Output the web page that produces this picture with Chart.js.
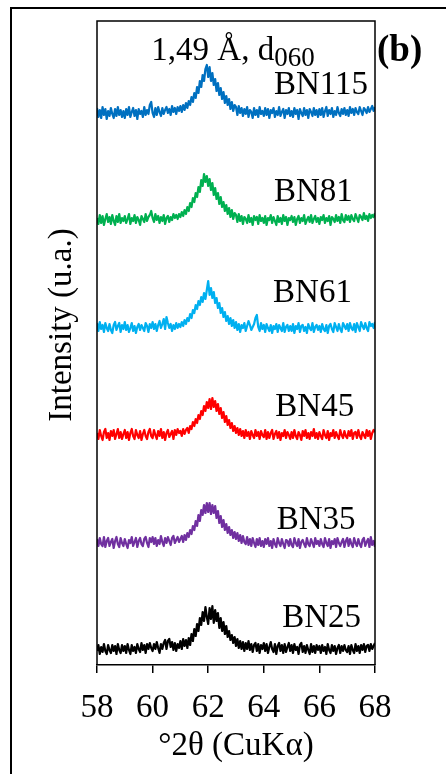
<!DOCTYPE html>
<html>
<head>
<meta charset="utf-8">
<script src="https://cdn.jsdelivr.net/npm/chart.js@4.4.0/dist/chart.umd.min.js"></script>
<style>
  html, body { margin: 0; padding: 0; background: #fff; }
</style>
</head>
<body>
<canvas id="xrdCanvas" width="446" height="774"></canvas>
<script>
// scan angles, degrees 2theta
var angles = [
  58.00, 58.05, 58.10, 58.15, 58.20, 58.25, 58.30, 58.35, 58.40, 58.45, 58.50, 58.55, 58.60, 58.65, 58.70, 58.75, 58.80, 58.85, 58.90, 58.95,
  59.00, 59.05, 59.10, 59.15, 59.20, 59.25, 59.30, 59.35, 59.40, 59.45, 59.50, 59.55, 59.60, 59.65, 59.70, 59.75, 59.80, 59.85, 59.90, 59.95,
  60.00, 60.05, 60.10, 60.15, 60.20, 60.25, 60.30, 60.35, 60.40, 60.45, 60.50, 60.55, 60.60, 60.65, 60.70, 60.75, 60.80, 60.85, 60.90, 60.95,
  61.00, 61.05, 61.10, 61.15, 61.20, 61.25, 61.30, 61.35, 61.40, 61.45, 61.50, 61.55, 61.60, 61.65, 61.70, 61.75, 61.80, 61.85, 61.90, 61.95,
  62.00, 62.05, 62.10, 62.15, 62.20, 62.25, 62.30, 62.35, 62.40, 62.45, 62.50, 62.55, 62.60, 62.65, 62.70, 62.75, 62.80, 62.85, 62.90, 62.95,
  63.00, 63.05, 63.10, 63.15, 63.20, 63.25, 63.30, 63.35, 63.40, 63.45, 63.50, 63.55, 63.60, 63.65, 63.70, 63.75, 63.80, 63.85, 63.90, 63.95,
  64.00, 64.05, 64.10, 64.15, 64.20, 64.25, 64.30, 64.35, 64.40, 64.45, 64.50, 64.55, 64.60, 64.65, 64.70, 64.75, 64.80, 64.85, 64.90, 64.95,
  65.00, 65.05, 65.10, 65.15, 65.20, 65.25, 65.30, 65.35, 65.40, 65.45, 65.50, 65.55, 65.60, 65.65, 65.70, 65.75, 65.80, 65.85, 65.90, 65.95,
  66.00, 66.05, 66.10, 66.15, 66.20, 66.25, 66.30, 66.35, 66.40, 66.45, 66.50, 66.55, 66.60, 66.65, 66.70, 66.75, 66.80, 66.85, 66.90, 66.95,
  67.00, 67.05, 67.10, 67.15, 67.20, 67.25, 67.30, 67.35, 67.40, 67.45, 67.50, 67.55, 67.60, 67.65, 67.70, 67.75, 67.80, 67.85, 67.90, 67.95,
  68.00
];

var samples = ['BN115', 'BN81', 'BN61', 'BN45', 'BN35', 'BN25'];

// intensities (a.u., above each trace's own baseline)
var bn115 = [
  5, -4, 3, -5, 6, -2, 4, -6, 2, -3, 5, -1, -5, 4, -3, 6, -2, 3, -4, 2,
  -5, 4, -2, 6, -4, 1, 5, -3, 3, -6, 4, -1, 2, -4, 6, -2, 3, -1, 8, 11,
  0, -4, 5, -2, 6, 1, -3, 5, -1, 3, 6, 0, 4, -2, 7, 1, 5, -1, 6, 2,
  7, 1, 8, 3, 10, 5, 12, 8, 16, 11, 20, 15, 26, 20, 32, 26, 38, 32, 44, 48,
  36, 46, 32, 40, 28, 34, 22, 30, 18, 25, 14, 21, 10, 17, 8, 14, 4, 11, 2, 8,
  6, -2, 7, 0, 5, -3, 4, -1, 6, -4, 3, 1, -5, 5, -2, 3, -4, 6, -1, 2,
  -3, 5, -2, 4, -5, 3, 0, 5, -4, 2, -2, 6, -3, 1, 4, -5, 3, -1, 5, -3,
  2, -4, 5, -1, 3, -6, 4, 0, -3, 5, -2, 3, -5, 4, 1, -3, 5, -2, 3, -4,
  4, -2, 5, -4, 2, 6, -3, 3, -1, 5, -4, 2, -2, 6, 0, -3, 4, -1, 5, -2,
  3, -3, 6, 0, 4, -2, 5, 1, -1, 6, 2, -2, 5, 3, 0, 6, 1, 4, 7, 2,
  6
];
var bn81 = [
  2, -4, 5, -3, 4, -5, 1, 6, -2, 3, -4, 5, -1, -5, 4, -2, 6, -3, 2, -1,
  4, -3, 1, 6, -4, 2, -1, 5, -3, 3, 0, -5, 4, 1, -2, 6, -1, 3, 5, 9,
  2, -2, 6, 0, 4, -3, 3, -1, 5, -4, 2, 4, -2, 3, 0, 6, 2, 5, 1, 6,
  3, 8, 4, 10, 6, 13, 9, 17, 13, 22, 18, 27, 23, 33, 28, 40, 34, 46, 38, 44,
  34, 41, 30, 37, 25, 32, 21, 27, 16, 23, 13, 18, 9, 15, 6, 12, 3, 10, 1, 7,
  5, -2, 6, -1, 4, -4, 3, 1, -3, 5, -2, 2, -5, 4, 0, 3, -4, 5, -1, 2,
  -3, 4, -5, 2, 0, 5, -3, 3, -1, -5, 4, -2, 2, -4, 5, -1, 3, -5, 2, 0,
  4, -2, 3, -5, 1, 4, -3, 2, -1, 5, -4, 0, 3, -2, 5, -3, 1, 4, -2, 2,
  -4, 3, 0, 5, -3, 2, -1, 4, -5, 3, 1, -2, 5, -1, 3, -3, 6, 0, -2, 5,
  0, 4, -2, 5, 1, -1, 6, 2, -2, 5, 3, 0, 7, 1, 4, -1, 6, 2, 5, 3,
  7
];
var bn61 = [
  5, -3, 6, -1, 3, -4, 5, 0, -3, 4, -2, -5, 3, 6, -2, 2, 5, -4, 3, -1,
  6, -2, 3, -4, 0, 5, -3, 2, -5, 1, 4, -2, 3, 0, -3, 5, 2, -4, 4, 0,
  6, -1, 4, -3, 3, 7, 0, 4, 9, -1, 11, 5, 0, 4, -3, 3, -1, 5, 0, 4,
  1, 6, 2, 8, 4, 10, 7, 14, 10, 18, 15, 23, 19, 27, 23, 31, 26, 35, 29, 38,
  47, 33, 40, 30, 36, 25, 30, 20, 25, 15, 20, 11, 16, 7, 12, 4, 10, 2, 8, 0,
  6, -2, 4, -4, 3, 0, 5, -3, 2, 7, 3, -2, 1, 4, 10, 13, 1, -3, 5, -1,
  3, -4, 4, 0, -3, 3, -5, 2, -1, 4, -4, 3, 0, -3, 5, -4, 1, 3, -3, 2,
  -3, 4, -5, 2, -1, 5, -4, 2, 3, -3, 1, -5, 4, 0, -2, 5, -4, 1, 3, -2,
  2, -4, 4, -1, -3, 3, -5, 2, 4, -1, -4, 5, 1, -3, 4, -1, -4, 5, 2, -1,
  4, -3, 5, 0, -2, 4, -4, 5, 1, -3, 6, 2, -1, 5, 0, -3, 6, 2, 4, 0,
  6
];
var bn45 = [
  2, -4, 5, -1, -5, 3, 6, -3, 2, -5, 4, -1, 5, -4, 1, 6, -3, 3, -4, 1,
  5, -3, 3, -5, 2, 6, -1, -4, 5, 0, -3, 4, -5, 1, 5, -1, -4, 3, 6, -1,
  -3, 5, 0, -4, 4, -1, 6, -3, 3, -5, 2, 5, -2, 1, 4, -4, 5, 0, 6, 2,
  4, -1, 6, 1, 5, 7, 2, 9, 6, 13, 9, 16, 12, 20, 16, 24, 20, 29, 24, 33,
  27, 36, 26, 37, 28, 34, 24, 31, 21, 27, 17, 23, 13, 19, 10, 15, 7, 12, 4, 9,
  2, 7, 0, 6, -1, 4, -3, 5, -1, 3, -4, 4, 0, -3, 5, -1, 3, -4, 4, 0,
  -2, 5, -4, 3, -3, 2, 5, -4, 1, 4, -3, 3, -5, 2, -1, 5, -3, 3, 0, -4,
  3, -3, 5, -1, -4, 3, 0, -5, 4, -1, 5, -3, 2, -4, 3, -1, 6, -3, 2, -4,
  3, -1, -4, 5, 0, -3, 4, -5, 2, -1, 5, -3, 3, -1, -4, 5, 0, -3, 4, -1,
  -3, 4, -1, 5, -4, 2, 3, -3, 5, -1, -4, 3, 0, -3, 5, -1, 4, -4, 2, 5,
  3
];
var bn35 = [
  4, -3, 5, -1, -3, 6, -4, 2, 5, -3, 1, 4, -5, 2, 6, -1, -4, 5, 0, -3,
  4, -1, -5, 3, 0, 6, -3, 1, 5, -4, 2, 5, -1, -3, 4, 6, 0, -4, 5, 1,
  6, -1, 5, -3, 3, -1, 7, 1, -3, 5, 0, 6, 2, -2, 5, 7, 0, 3, 6, 1,
  4, 7, 1, 8, 3, 10, 6, 13, 9, 17, 13, 22, 17, 28, 22, 33, 28, 38, 30, 40,
  31, 40, 29, 38, 30, 37, 25, 32, 20, 27, 16, 23, 13, 19, 10, 16, 8, 13, 5, 11,
  4, 10, 2, 8, 0, 7, 1, -1, 6, -2, 4, -3, 5, 0, -4, 4, -2, 5, -3, 2,
  -4, 4, -1, 5, -3, 2, -5, 4, -1, -4, 5, 0, -3, 4, -1, -5, 3, 2, -3, 4,
  -2, -4, 5, 0, -3, 4, -5, 1, 3, -1, -4, 5, -1, -3, 4, 0, -4, 5, -1, 2,
  -3, 4, -1, -4, 5, 0, -3, 4, -5, 2, -1, 4, -4, 5, 0, -3, 1, 4, -4, 2,
  5, -3, 4, -1, -4, 5, 0, -3, 4, -1, -4, 3, 5, -3, 1, 4, -4, 6, -2, 2,
  -4
];
var bn25 = [
  -1, 5, -4, 3, -2, 6, -1, -4, 5, 0, -3, 5, -1, 4, -4, 6, 0, -3, 5, -1,
  4, -3, 6, 0, -4, 5, -1, 3, -3, 6, 1, -2, 7, 0, 5, -3, 6, 1, 7, 2,
  -1, 6, 1, 8, 2, -3, 6, 1, 7, 10, 1, 9, 11, 3, 8, 0, 7, -1, 6, 2,
  9, 1, 11, 4, 10, 2, 12, 5, 16, 9, 21, 14, 26, 19, 32, 25, 38, 29, 43, 33,
  26, 42, 31, 44, 27, 40, 29, 37, 22, 32, 19, 28, 16, 24, 13, 19, 10, 15, 7, 13,
  4, 11, 2, 9, 1, 8, -1, 7, 1, 9, 0, 6, -2, 5, 7, -1, 6, -3, 5, 1,
  7, -1, 6, -3, 3, 8, 1, -2, 6, -4, 4, 7, -1, 5, -3, 6, -2, 3, 7, -1,
  5, -3, 6, 0, 3, -4, 5, 7, -2, 4, -3, 5, 0, -4, 6, -2, 4, -3, 5, 0,
  4, -3, 5, -1, 3, -4, 6, 0, -3, 5, -1, 4, -4, 2, 5, -3, 4, -1, 5, 0,
  -2, 4, -4, 5, 0, -3, 6, -1, 4, -3, 5, 0, 6, -2, 4, 5, -1, 6, 1, 4,
  7
];
var intensities = [bn115, bn81, bn61, bn45, bn35, bn25];

var xTicks = [58, 60, 62, 64, 66, 68];

// display settings
var colors = ['#0070C0', '#00B050', '#00B0F0', '#FF0000', '#7030A0', '#000000'];
var stackOffsets = [552, 445, 337, 230, 122, 15];
var labelAt = [67.75, 67.2, 67.17, 67.25, 67.3, 67.5];
var labelLift = [28, 28, 35, 28, 23, 32];

var serif = '"Liberation Serif", "Times New Roman", serif';

var datasets = samples.map(function (name, k) {
    return {
        label: name,
        data: angles.map(function (a, i) { return { x: a, y: intensities[k][i] + stackOffsets[k] }; }),
        borderColor: colors[k],
        borderWidth: 2.2,
        borderJoinStyle: 'round',
        pointRadius: 0,
        tension: 0,
        fill: false
    };
});

var decor = {
    id: 'decor',
    beforeDraw: function (chart) {
        var ctx = chart.ctx;
        ctx.save();
        ctx.fillStyle = '#fff';
        ctx.fillRect(0, 0, chart.width, chart.height);
        ctx.restore();
    },
    afterDraw: function (chart) {
        var ctx = chart.ctx, a = chart.chartArea;
        var xs = chart.scales.x, ys = chart.scales.y;
        ctx.save();
        ctx.strokeStyle = '#000';
        ctx.lineWidth = 1.5;
        ctx.beginPath();
        ctx.moveTo(a.left, a.bottom);
        ctx.lineTo(a.left, a.top);
        ctx.lineTo(a.right, a.top);
        ctx.lineTo(a.right, a.bottom);
        ctx.stroke();

        // outer frame of the figure
        ctx.lineWidth = 2;
        ctx.beginPath();
        ctx.moveTo(11, chart.height);
        ctx.lineTo(11, 8);
        ctx.lineTo(chart.width, 8);
        ctx.stroke();

        ctx.fillStyle = '#000';
        ctx.font = '33px ' + serif;
        ctx.textAlign = 'right';
        ctx.textBaseline = 'middle';
        samples.forEach(function (s, k) {
            ctx.fillText(s, xs.getPixelForValue(labelAt[k]), ys.getPixelForValue(stackOffsets[k] + labelLift[k]));
        });

        // y title
        ctx.save();
        ctx.translate(62, 325);
        ctx.rotate(-Math.PI / 2);
        ctx.textAlign = 'center';
        ctx.fillText('Intensity (u.a.)', 0, 0);
        ctx.restore();

        // peak annotation
        ctx.textAlign = 'left';
        ctx.textBaseline = 'alphabetic';
        var main = '1,49 \u00C5, d';
        ctx.font = '33px ' + serif;
        var w1 = ctx.measureText(main).width;
        ctx.font = '27px ' + serif;
        var w2 = ctx.measureText('060').width;
        var x0 = 233 - (w1 + w2) / 2;
        ctx.font = '33px ' + serif;
        ctx.fillText(main, x0, 60);
        ctx.font = '27px ' + serif;
        ctx.fillText('060', x0 + w1, 66);

        ctx.font = 'bold 37px ' + serif;
        ctx.fillText('(b)', 377, 61);
        ctx.restore();
    }
};

new Chart(document.getElementById('xrdCanvas'), {
    type: 'line',
    data: { datasets: datasets },
    options: {
        responsive: false,
        devicePixelRatio: 1,
        animation: false,
        layout: { padding: { left: 97, right: 71, top: 21, bottom: 0 } },
        plugins: { legend: { display: false }, tooltip: { enabled: false } },
        scales: {
            x: {
                type: 'linear',
                min: 58,
                max: 68,
                afterBuildTicks: function (scale) {
                    scale.ticks = xTicks.map(function (v) { return { value: v }; });
                },
                afterFit: function (scale) { scale.height = 109; },
                ticks: { color: '#000', font: { family: serif, size: 33 }, padding: 16, maxRotation: 0 },
                grid: { drawOnChartArea: false, drawTicks: true, tickLength: 8, color: '#000', lineWidth: 1.5 },
                border: { display: true, color: '#000', width: 1.5 },
                title: { display: true, text: '\u00B02\u03B8 (CuK\u03B1)', color: '#000', font: { family: serif, size: 33 }, padding: { top: 0, bottom: 8 } }
            },
            y: {
                display: false,
                min: 0,
                max: 644
            }
        }
    },
    plugins: [decor]
});
</script>
</body>
</html>
